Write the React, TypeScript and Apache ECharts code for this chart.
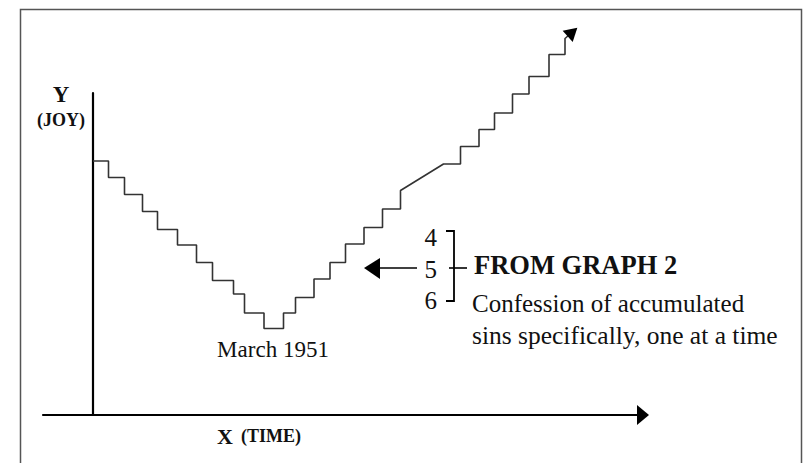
import React, { useEffect, useRef } from "react";
import * as echarts from "echarts";

// Staircase of joy over time: each level runs from levelStart to levelEnd at height levelJoy
const levelStart = [0, 3.1, 6.3, 9.9, 12.9, 16.9, 20.7, 23.9, 28.1, 30.3, 34.2, 38.1, 40.5, 44.2, 47.4, 50.5, 54.2, 57.9, 61.5, 70.1, 73.5, 77.2, 80.3, 83.9, 87.2, 91.2, 94.4];
const levelEnd = [3.1, 6.3, 9.9, 12.9, 16.9, 20.7, 23.9, 28.1, 30.3, 34.2, 38.1, 40.5, 44.2, 47.4, 50.5, 54.2, 57.9, 61.5, 61.5, 73.5, 77.2, 80.3, 83.9, 87.2, 91.2, 94.4, 94.4];
const levelJoy = [50.8, 47.5, 44.1, 40.7, 37.1, 34.0, 30.5, 26.9, 24.2, 20.4, 17.3, 20.4, 23.5, 27.2, 30.5, 34.2, 37.5, 41.2, 44.9, 50.2, 53.7, 57.1, 60.4, 64.2, 67.7, 72.1, 75.3];
const arrowHead = [95.9, 76.6];

const yTitle = "Y";
const ySub = "(JOY)";
const xTitle = "X";
const xSub = "(TIME)";
const lowLabel = "March 1951";
const stepNumbers = ["4", "5", "6"];
const noteTitle = "FROM GRAPH 2";
const noteLines = ["Confession of accumulated", "sins specifically, one at a time"];

const SERIF = "'Liberation Serif', 'Times New Roman', serif";

export default function App() {
  const ref = useRef<HTMLDivElement>(null);
  useEffect(() => {
    if (!ref.current) return;
    const chart = echarts.init(ref.current, undefined, { renderer: "svg" });

    const points: any[] = [];
    for (let i = 0; i < levelJoy.length; i++) {
      points.push([levelStart[i], levelJoy[i]]);
      if (levelEnd[i] !== levelStart[i]) points.push([levelEnd[i], levelJoy[i]]);
    }
    points.push({
      value: arrowHead,
      symbol: "triangle",
      symbolSize: [15, 13],
      symbolRotate: -48,
      itemStyle: { color: "#000" },
    });

    const txt = (x: number, y: number, text: string, size: number, align = "left", weight = "normal") => ({
      type: "text",
      x,
      y,
      style: {
        text,
        fontSize: size,
        fontFamily: SERIF,
        fontWeight: weight,
        fill: "#111",
        align,
        verticalAlign: "middle",
      },
    });

    chart.setOption({
      animation: false,
      backgroundColor: "#fff",
      grid: { left: 43, right: 161, top: 93, bottom: 48 },
      xAxis: {
        type: "value",
        min: -10,
        max: 110,
        axisLine: {
          show: true,
          lineStyle: { color: "#000", width: 2.2 },
          symbol: ["none", "triangle"],
          symbolSize: [20, 12],
        },
        axisTick: { show: false },
        axisLabel: { show: false },
        splitLine: { show: false },
      },
      yAxis: {
        type: "value",
        min: 0,
        max: 64.4,
        axisLine: { show: true, onZero: true, lineStyle: { color: "#000", width: 2.2 } },
        axisTick: { show: false },
        axisLabel: { show: false },
        splitLine: { show: false },
      },
      series: [
        {
          type: "line",
          data: points,
          symbol: "none",
          clip: false,
          lineStyle: { color: "#333", width: 1.6 },
          z: 3,
        },
      ],
      graphic: [
        {
          type: "rect",
          shape: { x: 20.5, y: 9.5, width: 781, height: 470 },
          style: { fill: "none", stroke: "#555", lineWidth: 1.5 },
          silent: true,
        },
        txt(61, 94, yTitle, 23, "center", "bold"),
        txt(61, 120, ySub, 18, "center", "bold"),
        txt(217, 436, xTitle, 22, "left", "bold"),
        txt(241, 436, xSub, 18, "left", "bold"),
        txt(273, 349, lowLabel, 23, "center"),
        txt(437, 237, stepNumbers[0], 25, "right"),
        txt(437, 269, stepNumbers[1], 25, "right"),
        txt(437, 300, stepNumbers[2], 25, "right"),
        {
          type: "polyline",
          shape: { points: [[446, 231], [454, 231], [454, 301], [446, 301]] },
          style: { stroke: "#000", lineWidth: 1.8, fill: "none" },
        },
        {
          type: "line",
          shape: { x1: 449, y1: 268, x2: 467, y2: 268 },
          style: { stroke: "#000", lineWidth: 1.6 },
        },
        {
          type: "line",
          shape: { x1: 376, y1: 268, x2: 417, y2: 268 },
          style: { stroke: "#000", lineWidth: 1.6 },
        },
        {
          type: "polygon",
          shape: { points: [[364, 268], [380, 258], [380, 279]] },
          style: { fill: "#000" },
        },
        txt(474, 265, noteTitle, 26.5, "left", "bold"),
        txt(472, 303, noteLines[0], 25, "left"),
        txt(472, 335, noteLines[1], 25.5, "left"),
      ],
    });
    return () => chart.dispose();
  }, []);
  return <div ref={ref} style={{ position: "fixed", left: 0, top: 0, width: 804, height: 463 }} />;
}
